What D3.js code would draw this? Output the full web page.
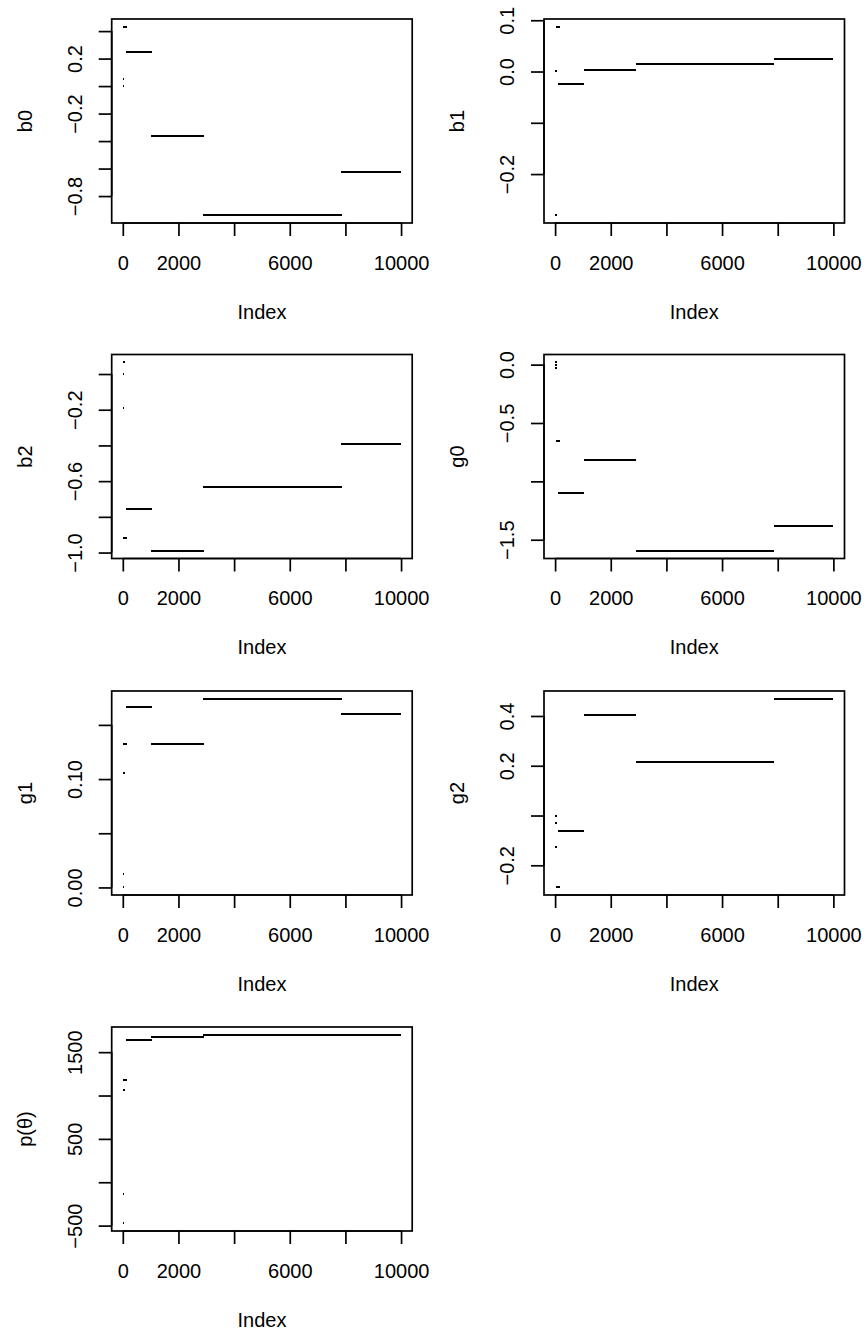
<!DOCTYPE html>
<html><head><meta charset="utf-8">
<script src="https://cdn.jsdelivr.net/npm/d3@7"></script>
<style>
body{margin:0;background:#fff}
text{font-family:"Liberation Sans",Arial,Helvetica,sans-serif;font-size:20px;fill:#000}
</style>
</head><body>
<svg id="chart" width="866" height="1332"></svg>
<script>
// ---------------- data ----------------
const nIter = 10000;
const xTicks = [0, 2000, 4000, 6000, 8000, 10000];
const xTickLabels = ["0", "2000", "", "6000", "", "10000"];

// constant stretches of the chain (iteration ranges, as they appear)
const blockStart = [115, 1025, 2890, 7850];
const blockEnd   = [1055, 2915, 7880, 10000];

// parameter names
const names = ["b0", "b1", "b2", "g0", "g1", "g2", "p(θ)"];

// value of each parameter in each constant stretch
const b0Blocks = [0.247, -0.364, -0.941, -0.623];
const b1Blocks = [-0.0253, 0.002, 0.0144, 0.0253];
const b2Blocks = [-0.758, -0.991, -0.633, -0.394];
const g0Blocks = [-1.10, -0.818, -1.596, -1.382];
const g1Blocks = [0.1669, 0.1327, 0.1743, 0.1604];
const g2Blocks = [-0.0614, 0.402, 0.217, 0.47];
const pBlocks  = [1642, 1676, 1703, 1703];

// early iterations: [from, to, value]
const b0Early = [[0, 60, 0.055], [0, 60, 0.0], [15, 165, 0.433]];
const b1Early = [[15, 165, 0.0877], [0, 60, 0.001], [0, 80, -0.2807]];
const b2Early = [[0, 80, 0.067], [0, 60, 0.0], [0, 60, -0.192], [15, 165, -0.92]];
const g0Early = [[0, 60, 0.022], [0, 60, 0.0], [0, 60, -0.025], [15, 165, -0.65]];
const g1Early = [[15, 165, 0.1327], [0, 70, 0.1059], [0, 60, 0.0126], [0, 60, 0.0]];
const g2Early = [[0, 60, 0.0], [0, 60, -0.029], [0, 70, -0.126], [15, 165, -0.289]];
const pEarly  = [[15, 165, 1184], [0, 70, 1069], [0, 60, -140], [0, 60, -475]];

// y ticks and their labels (empty = unlabeled tick)
const b0Ticks = [0.4, 0.2, 0, -0.2, -0.4, -0.6, -0.8];
const b0Labels = ["", "0.2", "", "−0.2", "", "", "−0.8"];
const b1Ticks = [0.1, 0, -0.1, -0.2];
const b1Labels = ["0.1", "0.0", "", "−0.2"];
const b2Ticks = [0, -0.2, -0.4, -0.6, -0.8, -1.0];
const b2Labels = ["", "−0.2", "", "−0.6", "", "−1.0"];
const g0Ticks = [0, -0.5, -1.0, -1.5];
const g0Labels = ["0.0", "−0.5", "", "−1.5"];
const g1Ticks = [0, 0.05, 0.10, 0.15];
const g1Labels = ["0.00", "", "0.10", ""];
const g2Ticks = [0.4, 0.2, 0, -0.2];
const g2Labels = ["0.4", "0.2", "", "−0.2"];
const pTicks = [1500, 1000, 500, 0, -500];
const pLabels = ["1500", "", "500", "", "−500"];

const panels = [
  {name: names[0], blocks: b0Blocks, early: b0Early, ticks: b0Ticks, labels: b0Labels},
  {name: names[1], blocks: b1Blocks, early: b1Early, ticks: b1Ticks, labels: b1Labels},
  {name: names[2], blocks: b2Blocks, early: b2Early, ticks: b2Ticks, labels: b2Labels},
  {name: names[3], blocks: g0Blocks, early: g0Early, ticks: g0Ticks, labels: g0Labels},
  {name: names[4], blocks: g1Blocks, early: g1Early, ticks: g1Ticks, labels: g1Labels},
  {name: names[5], blocks: g2Blocks, early: g2Early, ticks: g2Ticks, labels: g2Labels},
  {name: names[6], blocks: pBlocks,  early: pEarly,  ticks: pTicks,  labels: pLabels}
];

// ---------------- layout ----------------
const colLeft = [111.7, 544];
const rowTop = [19, 354.5, 691, 1027];
const boxW = 300.5, boxH = 204;
const tickLen = 13;

const svg = d3.select("#chart");

panels.forEach((p, i) => {
  const left = colLeft[i % 2], top = rowTop[Math.floor(i / 2)];
  const g = svg.append("g");

  const segs = p.blocks.map((v, k) => [blockStart[k], blockEnd[k], v]).concat(p.early);
  const ext = d3.extent(segs, d => d[2]);
  const pad = 0.04 * (ext[1] - ext[0]);
  const xPad = 0.04 * (nIter - 1);

  const x = d3.scaleLinear().domain([1 - xPad, nIter + xPad]).range([left, left + boxW]);
  const y = d3.scaleLinear().domain([ext[0] - pad, ext[1] + pad]).range([top + boxH, top]);

  // data
  g.selectAll("line.d").data(segs).join("line")
    .attr("class", "d")
    .attr("x1", d => x(d[0])).attr("x2", d => x(d[1]))
    .attr("y1", d => y(d[2])).attr("y2", d => y(d[2]))
    .attr("stroke", "#000").attr("stroke-width", 2)
    .attr("shape-rendering", "crispEdges");

  // box
  g.append("rect").attr("x", left).attr("y", top).attr("width", boxW).attr("height", boxH)
    .attr("fill", "none").attr("stroke", "#000").attr("stroke-width", 1.7);

  // x axis
  const xAxis = d3.axisBottom(x).tickValues(xTicks).tickSize(tickLen)
    .tickFormat((d, k) => xTickLabels[k]);
  const xa = g.append("g").attr("transform", `translate(0,${top + boxH})`).call(xAxis);
  xa.select(".domain").attr("stroke-width", 1.7).attr("d", `M${x(xTicks[0])},0H${x(xTicks[xTicks.length - 1])}`);
  xa.selectAll(".tick line").attr("stroke-width", 1.7);
  xa.selectAll(".tick text").attr("font-size", null).attr("font-family", null)
    .attr("y", 46.6).attr("dy", null);
  xa.attr("font-size", null).attr("font-family", null);

  // y axis
  const yAxis = d3.axisLeft(y).tickValues(p.ticks).tickSize(tickLen)
    .tickFormat((d, k) => p.labels[k]);
  const ya = g.append("g").attr("transform", `translate(${left},0)`).call(yAxis);
  ya.attr("font-size", null).attr("font-family", null);
  ya.select(".domain").attr("stroke-width", 1.7)
    .attr("d", `M0,${y(p.ticks[0])}V${y(p.ticks[p.ticks.length - 1])}`);
  ya.selectAll(".tick line").attr("stroke-width", 1.7);
  ya.selectAll(".tick text")
    .attr("x", null).attr("dy", null).attr("font-size", null).attr("font-family", null)
    .attr("text-anchor", "middle")
    .attr("transform", "translate(-30,0) rotate(-90)");

  // titles
  g.append("text").attr("x", left + boxW / 2).attr("y", top + boxH + 95.6)
    .attr("text-anchor", "middle").text("Index");
  g.append("text").attr("text-anchor", "middle")
    .attr("transform", `translate(${left - 80},${top + boxH / 2}) rotate(-90)`)
    .text(p.name);
});
</script>
</body></html>
